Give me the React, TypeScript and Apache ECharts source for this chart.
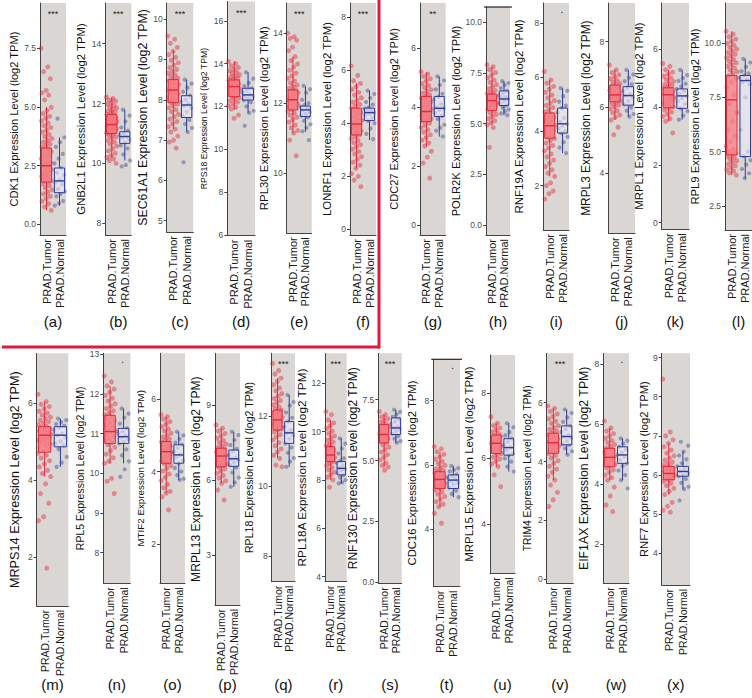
import React, { useEffect, useRef } from "react";
import * as echarts from "echarts";

// ---------------- data ----------------
const genes = ["CDK1","GNB2L1","SEC61A1","RPS18","RPL30","LONRF1","CDC27","POLR2K","RNF19A","MRPL3","MRPL1","RPL9",
  "MRPS14","RPL5","MTIF2","MRPL13","RPL18","RPL18A","RNF130","CDC16","MRPL15","TRIM4","EIF1AX","RNF7"];
const panelLetters = ["(a)","(b)","(c)","(d)","(e)","(f)","(g)","(h)","(i)","(j)","(k)","(l)",
  "(m)","(n)","(o)","(p)","(q)","(r)","(s)","(t)","(u)","(v)","(w)","(x)"];
const significance = ["***","***","***","***","***","***","**","",".","","","",
  "",".","","","***","***","***",".","","***",".",""];
const groups = ["PRAD.Tumor","PRAD.Normal"];

const yTicks: number[][] = [
  [0,2.5,5,7.5],[8,10,12,14],[5,6,7,8,9,10],[6,8,10,12,14,16],[10,12,14],[0,2,4,6,8],
  [0,2,4,6],[0,2.5,5,7.5,10],[2,4,6,8],[4,6,8],[0,2,4,6],[2.5,5,7.5,10],
  [2,4,6],[8,9,10,11,12,13],[2,4,6],[3,6,9],[8,10,12],[4,6,8,10,12],
  [0,2.5,5,7.5],[4,6,8],[4,6,8],[0,2,4,6],[2,4,6,8],[4,5,6,7,8,9]];
const yMin = [-0.45,7.61,4.72,5.97,8.29,-0.21,-0.34,-0.5,0.36,2.18,-0.23,1.39,
  0.74,7.23,0.91,1.0,7.27,3.79,-0.05,2.22,2.5,-0.14,0.69,3.19];
const yMax = [9.42,15.36,10.4,16.9,14.86,8.53,7.53,10.75,8.74,9.17,7.59,11.84,
  7.28,13.02,7.27,11.07,13.79,13.24,9.41,9.28,9.15,7.68,8.36,9.11];

// [min, Q1, median, Q3, max]
const tumorBox: number[][] = [
  [0.6,1.8,2.5,3.25,5.0],[10.2,11.0,11.3,11.63,12.2],[7.27,7.93,8.24,8.5,9.22],[11.85,12.46,12.93,13.24,14.1],
  [11.14,11.81,12.1,12.38,13.33],[2.3,3.56,3.97,4.57,5.51],[2.66,3.51,3.85,4.36,5.18],[4.94,5.65,6.13,6.45,7.8],
  [2.34,3.75,4.21,4.68,5.9],[5.62,6.17,6.38,6.68,7.14],[3.5,3.97,4.42,4.66,5.28],[3.92,4.85,7.38,8.5,10.54],
  [4.09,4.72,5.16,5.38,6.03],[10.25,10.75,11.05,11.46,12.2],[3.4,4.23,4.55,4.83,5.52],[5.87,6.53,6.96,7.27,8.07],
  [10.79,11.6,11.89,12.17,13.08],[8.0,8.76,9.03,9.38,10.48],[4.73,5.73,6.07,6.48,6.89],[4.7,5.27,5.55,5.79,6.41],
  [5.75,6.15,6.46,6.71,7.07],[3.37,4.28,4.64,4.96,5.81],[4.13,4.58,4.89,5.19,5.87],[5.5,5.88,6.04,6.22,6.81]];
const normalBox: number[][] = [
  [0.8,1.35,1.85,2.4,3.7],[10.1,10.67,10.9,11.06,11.8],[7.2,7.56,7.87,8.1,8.5],[11.7,12.3,12.54,12.85,13.6],
  [11.19,11.62,11.81,11.92,12.48],[3.37,4.1,4.4,4.57,5.23],[3.0,3.68,3.96,4.36,5.04],[5.41,5.89,6.21,6.61,7.09],
  [3.2,3.94,4.28,4.86,5.6],[5.72,6.07,6.36,6.63,7.14],[3.56,3.95,4.38,4.62,5.28],[3.77,4.77,8.27,8.5,9.27],
  [4.34,4.86,5.16,5.38,5.59],[10.25,10.75,10.92,11.13,11.63],[3.77,4.23,4.46,4.74,5.1],[5.73,6.55,6.85,7.2,7.93],
  [10.55,11.22,11.52,11.84,12.6],[7.86,8.21,8.48,8.76,9.72],[5.73,6.07,6.34,6.75,7.09],[5.0,5.27,5.53,5.69,5.97],
  [5.6,6.1,6.33,6.6,7.07],[4.23,4.57,4.85,5.21,5.77],[4.13,4.69,4.97,5.24,5.52],[5.64,5.97,6.09,6.22,6.6]];

const tumorPoints: number[][] = [
  [7.5,6.7,6.5,6.2,5.7,5.6,5.5,5.3,4.98,4.85,4.72,4.6,4.52,4.4,4.31,4.2,4.12,4.0,3.93,3.82,3.74,3.65,3.57,3.5,3.43,3.36,3.3,3.22,3.17,3.1,3.04,2.97,2.91,2.86,2.8,2.73,2.67,2.62,2.56,2.5,2.44,2.39,2.33,2.27,2.21,2.16,2.1,2.04,1.98,1.92,1.86,1.8,1.73,1.65,1.56,1.47,1.38,1.3,1.2,1.1,0.98,0.88,0.75,0.6],
  [12.22,12.17,12.12,12.08,12.03,11.98,11.93,11.89,11.85,11.8,11.76,11.72,11.68,11.64,11.61,11.58,11.55,11.52,11.49,11.46,11.43,11.4,11.37,11.34,11.31,11.28,11.25,11.22,11.19,11.16,11.13,11.1,11.07,11.04,11.01,10.97,10.93,10.88,10.83,10.77,10.71,10.65,10.58,10.5,10.42,10.34,10.26,10.2,10.15,10.1,10.0],
  [9.58,9.5,9.4,9.3,9.2,9.12,9.05,8.98,8.92,8.86,8.8,8.75,8.7,8.66,8.62,8.58,8.54,8.5,8.47,8.44,8.41,8.38,8.35,8.32,8.29,8.26,8.23,8.2,8.17,8.14,8.11,8.08,8.05,8.02,7.99,7.96,7.93,7.89,7.85,7.8,7.75,7.7,7.64,7.58,7.52,7.46,7.4,7.33,7.27,7.2,7.1,7.0,6.95,6.8],
  [14.1,14.0,13.9,13.82,13.74,13.67,13.6,13.54,13.48,13.42,13.37,13.32,13.27,13.22,13.17,13.12,13.07,13.02,12.97,12.92,12.87,12.82,12.77,12.72,12.67,12.62,12.57,12.52,12.47,12.41,12.34,12.27,12.2,12.12,12.04,11.96,11.88,11.6,11.45],
  [14.0,13.9,13.85,13.8,13.6,13.5,13.33,13.22,13.12,13.03,12.94,12.86,12.78,12.71,12.64,12.58,12.52,12.47,12.42,12.38,12.34,12.3,12.26,12.22,12.18,12.14,12.1,12.06,12.02,11.98,11.94,11.9,11.86,11.82,11.77,11.72,11.66,11.6,11.53,11.46,11.38,11.3,11.22,11.15,10.95,10.5],
  [6.16,5.8,5.6,5.5,5.38,5.27,5.16,5.06,4.96,4.87,4.79,4.71,4.64,4.57,4.51,4.45,4.39,4.33,4.27,4.21,4.16,4.11,4.06,4.01,3.96,3.91,3.86,3.81,3.76,3.71,3.66,3.61,3.56,3.49,3.42,3.35,3.27,3.19,3.11,3.02,2.93,2.84,2.74,2.64,2.53,2.42,2.3,2.1,2.0,1.86,1.61],
  [5.2,5.12,5.04,4.96,4.88,4.8,4.73,4.66,4.59,4.53,4.47,4.41,4.36,4.31,4.26,4.21,4.16,4.11,4.06,4.01,3.96,3.92,3.88,3.84,3.8,3.76,3.72,3.68,3.64,3.6,3.56,3.51,3.45,3.38,3.31,3.23,3.15,3.06,2.97,2.88,2.78,2.68,2.5,2.3,2.1,1.59],
  [7.9,7.8,7.66,7.52,7.39,7.26,7.14,7.03,6.92,6.82,6.72,6.63,6.55,6.48,6.42,6.36,6.3,6.24,6.18,6.12,6.06,6.0,5.94,5.88,5.82,5.76,5.7,5.63,5.54,5.45,5.35,5.25,5.14,5.03,4.94,4.8,3.82],
  [6.21,5.9,5.78,5.66,5.55,5.44,5.34,5.24,5.14,5.05,4.96,4.88,4.8,4.72,4.65,4.58,4.52,4.46,4.4,4.34,4.28,4.22,4.16,4.1,4.04,3.98,3.92,3.86,3.8,3.74,3.66,3.57,3.48,3.38,3.28,3.17,3.06,2.94,2.82,2.7,2.58,2.46,2.34,2.1,2.0,1.8,1.7,1.5],
  [7.29,7.14,7.06,6.99,6.93,6.87,6.82,6.77,6.72,6.68,6.64,6.6,6.56,6.52,6.48,6.44,6.4,6.36,6.32,6.28,6.24,6.2,6.16,6.12,6.07,6.02,5.96,5.9,5.84,5.77,5.7,5.62,5.4,5.17],
  [5.5,5.4,5.28,5.2,5.13,5.06,5.0,4.94,4.88,4.83,4.78,4.73,4.68,4.64,4.6,4.56,4.52,4.48,4.44,4.4,4.36,4.32,4.28,4.24,4.2,4.16,4.12,4.08,4.04,4.0,3.95,3.89,3.82,3.75,3.67,3.59,3.5,3.1],
  [10.54,10.4,10.28,10.17,10.07,9.98,9.89,9.8,9.72,9.64,9.56,9.48,9.4,9.32,9.24,9.16,9.08,9.0,8.92,8.84,8.76,8.68,8.6,8.5,8.38,8.2,7.95,7.6,7.2,6.8,6.4,6.0,5.7,5.45,5.25,5.1,5.0,4.92,4.85,4.78,4.71,4.64,4.57,4.5,4.42,4.34,4.26,4.18,4.1,4.02,3.92],
  [6.22,6.03,5.96,5.9,5.84,5.78,5.73,5.68,5.63,5.59,5.55,5.51,5.47,5.43,5.39,5.36,5.33,5.3,5.27,5.24,5.21,5.18,5.15,5.12,5.09,5.06,5.03,5.0,4.97,4.93,4.89,4.85,4.8,4.75,4.7,4.64,4.57,4.5,4.42,4.34,4.25,4.17,4.09,3.9,3.65,3.4,3.05,2.95,1.72],
  [12.45,12.3,12.2,12.12,12.04,11.96,11.89,11.82,11.75,11.69,11.63,11.57,11.52,11.47,11.42,11.37,11.32,11.27,11.22,11.17,11.12,11.07,11.02,10.97,10.92,10.87,10.82,10.77,10.72,10.65,10.57,10.48,10.39,10.3,10.25,9.87,9.8,9.49],
  [5.57,5.52,5.45,5.38,5.31,5.24,5.18,5.12,5.06,5.0,4.95,4.9,4.86,4.82,4.78,4.74,4.7,4.66,4.62,4.58,4.54,4.5,4.46,4.42,4.38,4.34,4.3,4.26,4.22,4.16,4.09,4.01,3.93,3.84,3.75,3.65,3.55,3.45,3.4,3.3,2.94],
  [8.2,8.07,7.96,7.86,7.76,7.67,7.58,7.5,7.43,7.36,7.3,7.24,7.18,7.12,7.06,7.0,6.94,6.88,6.82,6.76,6.7,6.64,6.58,6.52,6.44,6.36,6.27,6.18,6.08,5.97,5.87,5.6,5.2],
  [13.5,13.3,13.2,13.08,12.98,12.89,12.8,12.72,12.64,12.57,12.5,12.44,12.38,12.32,12.27,12.22,12.17,12.13,12.09,12.05,12.01,11.97,11.93,11.89,11.85,11.81,11.77,11.73,11.69,11.65,11.6,11.54,11.47,11.4,11.32,11.24,11.15,11.06,10.97,10.88,10.79,10.6,10.55],
  [10.83,10.7,10.48,10.36,10.24,10.13,10.02,9.92,9.82,9.73,9.64,9.56,9.48,9.41,9.35,9.29,9.23,9.17,9.11,9.05,8.99,8.93,8.87,8.81,8.75,8.68,8.6,8.51,8.42,8.32,8.22,8.11,8.0,7.7],
  [7.02,6.89,6.8,6.72,6.64,6.57,6.5,6.44,6.38,6.32,6.26,6.2,6.14,6.08,6.02,5.96,5.9,5.84,5.78,5.72,5.64,5.55,5.45,5.35,5.24,5.13,5.02,4.9,4.8,4.73,4.6],
  [6.57,6.5,6.41,6.33,6.25,6.18,6.11,6.05,5.99,5.93,5.88,5.83,5.79,5.75,5.71,5.67,5.63,5.59,5.55,5.51,5.47,5.43,5.39,5.35,5.31,5.27,5.22,5.16,5.09,5.02,4.94,4.86,4.78,4.7,4.5,4.19],
  [7.27,7.07,7.0,6.93,6.87,6.81,6.76,6.71,6.67,6.63,6.59,6.55,6.51,6.47,6.43,6.39,6.35,6.31,6.27,6.23,6.19,6.15,6.1,6.04,5.98,5.91,5.83,5.75,5.5,5.14],
  [5.89,5.81,5.71,5.62,5.53,5.45,5.37,5.29,5.22,5.15,5.09,5.03,4.97,4.92,4.87,4.82,4.77,4.72,4.67,4.62,4.57,4.52,4.47,4.42,4.37,4.32,4.27,4.2,4.12,4.03,3.94,3.84,3.74,3.63,3.5,3.37,3.2,2.95,2.7,2.47],
  [6.1,5.87,5.77,5.68,5.6,5.52,5.45,5.38,5.32,5.26,5.2,5.15,5.1,5.05,5.0,4.95,4.9,4.85,4.8,4.75,4.7,4.65,4.6,4.54,4.47,4.39,4.3,4.21,4.13,3.9,3.6,3.3,3.08],
  [8.45,7.1,7.0,6.9,6.81,6.72,6.64,6.56,6.49,6.43,6.38,6.33,6.29,6.25,6.21,6.18,6.15,6.12,6.09,6.06,6.03,6.0,5.97,5.94,5.91,5.88,5.84,5.79,5.73,5.66,5.58,5.5,5.3,5.2,5.1,5.05]];

const normalPoints: number[][] = [
  [4.5,3.7,3.5,3.3,3.0,2.8,2.6,2.4,2.2,2.1,1.9,1.8,1.7,1.5,1.4,1.3,1.2,1.0,0.9,0.8],
  [11.8,11.6,11.4,11.2,11.1,11.0,10.95,10.9,10.85,10.8,10.7,10.6,10.5,10.3,10.1,9.95,9.9],
  [8.5,8.4,8.3,8.2,8.1,8.0,7.95,7.9,7.85,7.8,7.7,7.6,7.5,7.4,7.3,7.2,6.45],
  [13.6,13.3,13.1,12.95,12.85,12.75,12.65,12.55,12.5,12.45,12.35,12.3,12.2,12.0,11.8,11.7,11.1],
  [12.5,12.4,12.3,12.1,12.0,11.95,11.9,11.85,11.8,11.75,11.7,11.65,11.6,11.5,11.4,11.3,11.2,10.95],
  [5.23,5.1,4.95,4.8,4.7,4.6,4.55,4.5,4.45,4.4,4.35,4.3,4.2,4.1,4.0,3.8,3.6,3.4],
  [5.04,4.9,4.75,4.6,4.45,4.35,4.25,4.1,4.0,3.95,3.9,3.8,3.7,3.6,3.4,3.3,3.2,3.0],
  [7.09,7.0,6.9,6.75,6.61,6.5,6.4,6.3,6.25,6.2,6.1,6.0,5.9,5.8,5.7,5.6,5.5,5.41],
  [5.6,5.5,5.3,5.1,4.95,4.86,4.7,4.5,4.35,4.28,4.2,4.1,4.0,3.94,3.8,3.6,3.4,3.2],
  [7.14,7.0,6.9,6.8,6.7,6.6,6.5,6.4,6.36,6.3,6.2,6.1,6.0,5.9,5.8,5.72],
  [5.28,5.1,5.0,4.9,4.8,4.7,4.62,4.55,4.45,4.38,4.3,4.2,4.1,3.95,3.85,3.7,3.56],
  [9.27,9.1,8.9,8.7,8.6,8.5,8.4,8.3,8.2,8.1,7.5,6.0,5.0,4.8,4.6,4.4,4.2,4.0,3.77],
  [5.59,5.55,5.5,5.45,5.4,5.35,5.3,5.2,5.16,5.1,5.0,4.95,4.9,4.8,4.6,4.45,4.34],
  [11.63,11.5,11.4,11.25,11.13,11.05,11.0,10.95,10.9,10.85,10.8,10.75,10.6,10.45,10.3,10.1,9.91],
  [5.1,5.0,4.9,4.8,4.74,4.65,4.55,4.46,4.4,4.3,4.23,4.1,4.0,3.9,3.8,3.77],
  [7.93,7.8,7.6,7.4,7.25,7.15,7.0,6.9,6.85,6.8,6.7,6.6,6.5,6.3,6.1,5.9,5.73],
  [12.6,12.4,12.3,12.1,11.95,11.84,11.7,11.6,11.52,11.45,11.35,11.22,11.1,10.95,10.8,10.7,10.55],
  [9.72,9.5,9.3,9.1,8.9,8.8,8.7,8.6,8.5,8.45,8.4,8.3,8.2,8.1,8.0,7.9,7.86],
  [7.09,7.0,6.9,6.8,6.7,6.6,6.5,6.4,6.34,6.3,6.2,6.1,6.0,5.9,5.8,5.73],
  [5.97,5.9,5.85,5.8,5.7,5.65,5.6,5.55,5.5,5.45,5.4,5.3,5.2,5.1,5.0],
  [7.07,6.95,6.8,6.7,6.6,6.5,6.4,6.33,6.25,6.15,6.1,6.0,5.9,5.75,5.6],
  [5.77,5.65,5.5,5.35,5.21,5.1,5.0,4.9,4.85,4.8,4.7,4.6,4.57,4.45,4.35,4.23],
  [5.52,5.45,5.35,5.24,5.15,5.05,4.97,4.9,4.8,4.69,4.6,4.45,4.3,4.13,3.85],
  [6.85,6.75,6.6,6.5,6.4,6.3,6.22,6.15,6.1,6.05,6.0,5.97,5.9,5.8,5.7,5.64,5.35]];

// ---------------- layout (pixels) ----------------
const plotLeft = [40,105.3,166.7,227.3,286.7,350,420,486,543.3,608.3,661.7,725,
  36.7,103.3,160,215,271.7,325,378.3,433.3,490,546.7,603.3,661.7];
const plotWidth = [26,26,26.6,27.7,25,26,25.7,24,25.7,26.7,27.3,27,
  31.6,27,25,25,23.3,21.7,23.4,26.7,25,26.6,25.7,28.3];
const plotTop = [3,3,3,1.5,3,3,3,7,3,3,3,3,
  353.3,353.3,353.3,353.3,353.3,353.3,353.3,359.3,355,353.3,353.3,353.3];
const plotBottom = [235,235,232,235.7,233.3,235,235,235,230,233.3,229.3,230,
  606,583.3,583.3,605,581.7,581.7,583.3,586.7,573.3,583.3,583.3,585];
const nameCenterX = [13,80,141.7,204,263,326.7,393.3,460,518.3,585,638.3,700,
  15,80,140,196.7,253.3,303.3,356.7,411.7,468.3,526.7,583.3,647];
const nameSize = [11.1,11.3,12.4,8.7,11.4,11.4,11.1,11.2,11.5,11.9,11.4,11.3,
  12.7,10.5,9.8,12.1,10.6,11.8,12.0,11.3,11.5,10.3,12.3,11.2];
const topBorderPanels = [7, 19];
const letterY = [321, 684];

const FONT = "'Liberation Sans', Arial, Helvetica, sans-serif";
const PANEL_BG = "#DAD6D3";
const AXIS = "#444444";
const TUMOR_PT = "rgba(232,16,38,0.5)";
const NORMAL_PT = "rgba(38,52,140,0.5)";
const TUMOR_LINE = "#E8283A";
const NORMAL_LINE = "#2C3C97";
const TUMOR_FILL = "rgba(246,128,136,0.75)";
const NORMAL_FILL = "rgba(236,234,246,0.6)";
const RED_FRAME = "#E2163F";

const jitter = (j: number) => (((j * 0.6180339887) % 1) - 0.5) * 0.84;

const renderBox = (params: any, api: any) => {
  const cat = api.value(0);
  const band = api.size([1, 0])[0];
  const w = band * 0.78;
  const pMin = api.coord([cat, api.value(1)]);
  const pQ1 = api.coord([cat, api.value(2)]);
  const pMed = api.coord([cat, api.value(3)]);
  const pQ3 = api.coord([cat, api.value(4)]);
  const pMax = api.coord([cat, api.value(5)]);
  const cx = pMed[0];
  const stroke = cat === 0 ? TUMOR_LINE : NORMAL_LINE;
  const fill = cat === 0 ? TUMOR_FILL : NORMAL_FILL;
  return {
    type: "group",
    children: [
      { type: "line", shape: { x1: cx, y1: pMax[1], x2: cx, y2: pQ3[1] }, style: { stroke, lineWidth: 1 } },
      { type: "line", shape: { x1: cx, y1: pQ1[1], x2: cx, y2: pMin[1] }, style: { stroke, lineWidth: 1 } },
      { type: "rect", shape: { x: cx - w / 2, y: pQ3[1], width: w, height: pQ1[1] - pQ3[1] }, style: { fill, stroke, lineWidth: 1 } },
      { type: "line", shape: { x1: cx - w / 2, y1: pMed[1], x2: cx + w / 2, y2: pMed[1] }, style: { stroke, lineWidth: 1.4 } },
    ],
  };
};

function buildOption() {
  const grid: any[] = [];
  const xAxis: any[] = [];
  const yAxis: any[] = [];
  const series: any[] = [];
  const graphic: any[] = [];

  for (let i = 0; i < genes.length; i++) {
    const top = plotTop[i];
    const height = plotBottom[i] - plotTop[i];
    const bottomRow = i >= 12;
    grid.push({ left: plotLeft[i], top, width: plotWidth[i], height, show: true, backgroundColor: PANEL_BG, borderWidth: 0, containLabel: false });
    xAxis.push({
      type: "category", gridIndex: i, data: groups,
      axisLine: { onZero: false, lineStyle: { color: AXIS, width: 1 } },
      axisTick: { alignWithLabel: true, length: 3, lineStyle: { color: AXIS } },
      axisLabel: { rotate: 90, interval: 0, fontSize: bottomRow ? 10.5 : 11, color: "#1a1a1a", margin: 4, fontFamily: FONT },
      splitLine: { show: false },
    });
    xAxis.push({ type: "value", gridIndex: i, min: -0.5, max: 1.5, show: false });
    const dec = yTicks[i].some((v) => !Number.isInteger(v)) ? 1 : 0;
    const gap = plotLeft[i] - nameCenterX[i] - nameSize[i] * 0.55;
    yAxis.push({
      type: "value", gridIndex: i, min: yMin[i], max: yMax[i],
      name: genes[i] + " Expression Level (log2 TPM)",
      nameLocation: "middle", nameRotate: 90, nameGap: gap,
      nameTextStyle: { fontSize: nameSize[i], color: "#111", fontFamily: FONT },
      axisLine: { show: true, onZero: false, lineStyle: { color: AXIS, width: 1 } },
      axisTick: { show: true, length: 3, customValues: yTicks[i], lineStyle: { color: AXIS } },
      axisLabel: { customValues: yTicks[i], formatter: (v: number) => v.toFixed(dec), fontSize: 8.5, color: "#4d4d4d", margin: 4, fontFamily: FONT },
      splitLine: { show: false },
    });
    series.push({
      type: "scatter", xAxisIndex: 2 * i + 1, yAxisIndex: i, silent: true, z: 2,
      symbolSize: 5, itemStyle: { color: TUMOR_PT },
      data: tumorPoints[i].map((v, j) => [0 + jitter(j), v]),
    });
    series.push({
      type: "scatter", xAxisIndex: 2 * i + 1, yAxisIndex: i, silent: true, z: 2,
      symbolSize: 4.2, itemStyle: { color: NORMAL_PT },
      data: normalPoints[i].map((v, j) => [1 + jitter(j + 7), v]),
    });
    series.push({
      type: "custom", xAxisIndex: 2 * i, yAxisIndex: i, silent: true, z: 3,
      renderItem: renderBox,
      encode: { x: 0, y: [1, 2, 3, 4, 5] },
      data: [[0, ...tumorBox[i]], [1, ...normalBox[i]]],
    });

    const cx = plotLeft[i] + plotWidth[i] / 2;
    const sig = significance[i];
    if (sig) {
      const sx = sig === "." ? plotLeft[i] + plotWidth[i] * 0.72 : cx;
      graphic.push({
        type: "text", x: sx, y: top + (sig === "." ? 6 : 11), z: 10,
        style: { text: sig, fontSize: sig === "." ? 10 : 9, fill: "#222", align: "center", verticalAlign: "middle", fontFamily: FONT },
      });
    }
    graphic.push({
      type: "text", x: cx, y: letterY[bottomRow ? 1 : 0], z: 10,
      style: { text: panelLetters[i], fontSize: 15, fill: "#111", align: "center", verticalAlign: "middle", fontFamily: FONT },
    });
  }
  topBorderPanels.forEach((i) => {
    graphic.push({
      type: "line", z: 10,
      shape: { x1: plotLeft[i] - 2, y1: plotTop[i], x2: plotLeft[i] + plotWidth[i] + 2, y2: plotTop[i] },
      style: { stroke: "#222", lineWidth: 1.2 },
    });
  });
  graphic.push({ type: "line", z: 20, shape: { x1: 2, y1: 347, x2: 380, y2: 347 }, style: { stroke: RED_FRAME, lineWidth: 3 } });
  graphic.push({ type: "line", z: 20, shape: { x1: 379, y1: 0, x2: 379, y2: 348.5 }, style: { stroke: RED_FRAME, lineWidth: 3 } });

  return {
    animation: false,
    backgroundColor: "#ffffff",
    textStyle: { fontFamily: FONT },
    grid, xAxis, yAxis, series, graphic,
  };
}

export default function App() {
  const ref = useRef<HTMLDivElement>(null);
  useEffect(() => {
    if (!ref.current) return;
    const chart = echarts.init(ref.current, undefined, { renderer: "svg" });
    chart.setOption(buildOption() as any);
    return () => chart.dispose();
  }, []);
  return <div ref={ref} style={{ position: "fixed", left: 0, top: 0, width: 752, height: 698 }} />;
}
